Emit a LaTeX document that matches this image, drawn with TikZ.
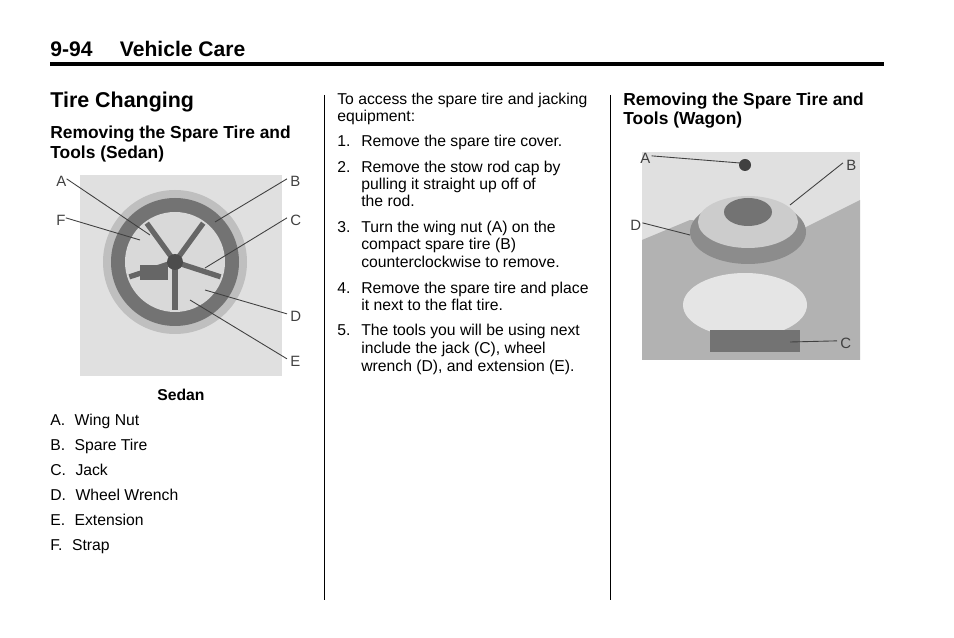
\documentclass[tikz,border=0pt]{standalone}
\usepackage{fontspec}
\setmainfont{Liberation Sans}
\usetikzlibrary{positioning}
\begin{document}
\begin{tikzpicture}[x=0.02cm,y=-0.02cm]
\tikzset{
  every node/.style={inner sep=0pt,anchor=base west},
  txt/.style={font=\fontsize{8.95}{10}\selectfont},
  head/.style={font=\fontsize{9.9}{11}\selectfont\bfseries},
  callout/.style={font=\fontsize{8.5}{9}\selectfont,text=black!75},
  leader/.style={black!75,line width=0.5pt},
  photo/.style={fill=black!12,draw=none}
}
\useasboundingbox (0,0) rectangle (954,638);

%HEADER
\node[font=\fontsize{12}{13}\selectfont\bfseries] (PAGE) at (50,57) {9-94\hspace{1.3em}Vehicle Care};
\draw[line width=2.2pt] (50,64) -- (884,64);
\node[font=\fontsize{12.2}{14}\selectfont\bfseries] (TITLE) at (50,108) {Tire Changing};

%COLUMN RULES
\draw[line width=0.5pt] (324,95) -- (324,600);
\draw[line width=0.5pt] (610,95) -- (610,600);

%COLUMN 1
\node[head] (SEDANH1) at (50,139) {Removing the Spare Tire and};
\node[head] (SEDANH2) at (50,159) {Tools (Sedan)};
\fill[photo] (80,175) rectangle (282,376);
\fill[black!25] (175,262) circle (72);
\fill[black!55] (175,262) circle (64);
\fill[black!15] (175,262) circle (50);
\foreach \a in {18,90,162,234,306}
  \draw[black!60,line width=3pt] (175,262) -- ++(\a:48);
\fill[black!70] (175,262) circle (8);
\fill[black!60] (140,265) rectangle (168,280);
\node[callout] (SA) at (56,187) {A};
\node[callout] (SF) at (56,226) {F};
\node[callout] (SB) at (290,187) {B};
\node[callout] (SC) at (290,226) {C};
\node[callout] (SD) at (290,322) {D};
\node[callout] (SE) at (290,367) {E};
\coordinate (PA) at (150,235);
\coordinate (PF) at (140,240);
\coordinate (PB) at (215,222);
\coordinate (PC) at (205,268);
\coordinate (PD) at (205,290);
\coordinate (PE) at (190,300);
\draw[leader] (SA.east) ++(0,-3) -- (PA);
\draw[leader] (SF.east) ++(0,-3) -- (PF);
\draw[leader] (SB.west) ++(-3,-3) -- (PB);
\draw[leader] (SC.west) ++(-3,-3) -- (PC);
\draw[leader] (SD.west) ++(-3,-3) -- (PD);
\draw[leader] (SE.west) ++(-3,-3) -- (PE);
\node[txt,font=\fontsize{8.95}{10}\selectfont\bfseries] (SEDANCAP) at (157,401) {Sedan};
\node[txt] (LA) at (50,426) {A.\hspace{0.6em}Wing Nut};
\node[txt] (LB) at (50,451) {B.\hspace{0.6em}Spare Tire};
\node[txt] (LC) at (50,476) {C.\hspace{0.6em}Jack};
\node[txt] (LD) at (50,501) {D.\hspace{0.6em}Wheel Wrench};
\node[txt] (LE) at (50,526) {E.\hspace{0.6em}Extension};
\node[txt] (LF) at (50,551) {F.\hspace{0.6em}Strap};

%COLUMN 2
\node[txt] (INTRO1) at (337,105) {To access the spare tire and jacking};
\node[txt] (INTRO2) at (337,122) {equipment:};
\node[txt] (N1) at (337,147) {1.};
\node[txt] (S1) at (361,147) {Remove the spare tire cover.};
\node[txt] (N2) at (337,173) {2.};
\node[txt] (S2a) at (361,173) {Remove the stow rod cap by};
\node[txt] (S2b) at (361,190) {pulling it straight up off of};
\node[txt] (S2c) at (361,207) {the rod.};
\node[txt] (N3) at (337,233) {3.};
\node[txt] (S3a) at (361,233) {Turn the wing nut (A) on the};
\node[txt] (S3b) at (361,250) {compact spare tire (B)};
\node[txt] (S3c) at (361,268) {counterclockwise to remove.};
\node[txt] (N4) at (337,294) {4.};
\node[txt] (S4a) at (361,294) {Remove the spare tire and place};
\node[txt] (S4b) at (361,311) {it next to the flat tire.};
\node[txt] (N5) at (337,336) {5.};
\node[txt] (S5a) at (361,336) {The tools you will be using next};
\node[txt] (S5b) at (361,354) {include the jack (C), wheel};
\node[txt] (S5c) at (361,372) {wrench (D), and extension (E).};

%COLUMN 3
\node[head] (WAGONH1) at (623,106) {Removing the Spare Tire and};
\node[head] (WAGONH2) at (623,125) {Tools (Wagon)};
\fill[photo] (642,152) rectangle (860,360);
\fill[black!30] (690,220) -- (800,230) -- (860,200) -- (860,360) -- (642,360) -- (642,240) -- cycle;
\fill[black!10] (745,305) ellipse (62 and 32);
\fill[black!45] (748,232) ellipse (58 and 32);
\fill[black!20] (748,222) ellipse (50 and 26);
\fill[black!55] (748,212) ellipse (24 and 14);
\fill[black!75] (745,165) circle (6);
\fill[black!55] (710,330) rectangle (800,352);
\node[callout] (WA) at (640,164) {A};
\node[callout] (WB) at (846,171) {B};
\node[callout] (WD) at (630,231) {D};
\node[callout] (WC) at (840,349) {C};
\coordinate (PWA) at (740,163);
\coordinate (PWB) at (790,205);
\coordinate (PWD) at (690,235);
\coordinate (PWC) at (790,342);
\draw[leader] (WA.east) ++(1,-3) -- (PWA);
\draw[leader] (WB.west) ++(-3,-3) -- (PWB);
\draw[leader] (WD.east) ++(1,-3) -- (PWD);
\draw[leader] (WC.west) ++(-3,-3) -- (PWC);
\end{tikzpicture}
\end{document}
